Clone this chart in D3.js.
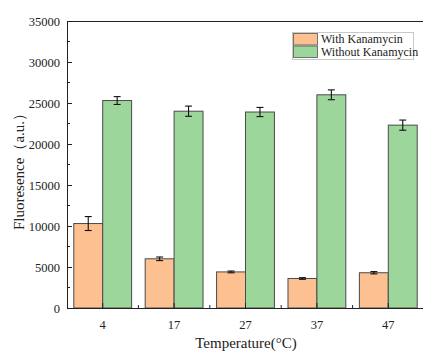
<!DOCTYPE html>
<html><head><meta charset="utf-8">
<script src="https://cdn.jsdelivr.net/npm/d3@7"></script>
<style>body{margin:0;background:#fff}svg{display:block}text{font-family:"Liberation Serif","Times New Roman",serif;fill:#222}</style>
</head><body>
<svg id="c" width="423" height="354"></svg>
<script>
const categories = ["4", "17", "27", "37", "47"];
const seriesNames = ["With Kanamycin", "Without Kanamycin"];
const withKan = [10300, 6000, 4400, 3600, 4300];
const withKanErr = [850, 220, 110, 100, 140];
const withoutKan = [25300, 24000, 23900, 26000, 22300];
const withoutKanErr = [480, 620, 560, 600, 620];
const yTicks = [0, 5000, 10000, 15000, 20000, 25000, 30000, 35000];
const colors = ["#fdc191", "#9dd69b"];

const svg = d3.select("#c");
const L = 67, R = 424, T = 21, B = 308;
const x = d3.scaleBand().domain(categories).range([L, R]).paddingInner(0.19).paddingOuter(0.095);
const y = d3.scaleLinear().domain([0, 35000]).range([B, T]);
const sub = d3.scaleBand().domain(seriesNames).range([0, x.bandwidth()]);

const series = [
  {name: seriesNames[0], vals: withKan, errs: withKanErr, color: colors[0]},
  {name: seriesNames[1], vals: withoutKan, errs: withoutKanErr, color: colors[1]}
];

// bars
series.forEach(s => {
  const g = svg.append("g");
  g.selectAll("rect").data(categories).join("rect")
    .attr("x", (c) => x(c) + sub(s.name))
    .attr("y", (c, i) => y(s.vals[i]))
    .attr("width", sub.bandwidth())
    .attr("height", (c, i) => B - y(s.vals[i]))
    .attr("fill", s.color).attr("stroke", "#4a4a4a").attr("stroke-width", 1);
  // error bars
  const eg = svg.append("g").attr("stroke", "#111").attr("stroke-width", 1.1);
  categories.forEach((c, i) => {
    const cx = x(c) + sub(s.name) + sub.bandwidth() / 2;
    const y1 = y(s.vals[i] + s.errs[i]), y0 = y(s.vals[i] - s.errs[i]);
    eg.append("line").attr("x1", cx).attr("x2", cx).attr("y1", y1).attr("y2", y0);
    eg.append("line").attr("x1", cx - 3.5).attr("x2", cx + 3.5).attr("y1", y1).attr("y2", y1);
    eg.append("line").attr("x1", cx - 3.5).attr("x2", cx + 3.5).attr("y1", y0).attr("y2", y0);
  });
});

// y axis (ticks inward)
const yAxis = d3.axisLeft(y).tickValues(yTicks).tickSize(-5).tickPadding(7).tickFormat(d3.format("d"));
const ya = svg.append("g").attr("transform", `translate(${L},0)`).call(yAxis);
ya.select(".domain").attr("stroke", "#222");
ya.selectAll(".tick line").attr("stroke", "#222");
ya.selectAll("text").attr("font-size", "12.5px").attr("font-family", "Liberation Serif").attr("fill", "#222");
// minor y ticks
const minorY = yTicks.slice(0, -1).map(v => v + 2500);
svg.append("g").selectAll("line").data(minorY).join("line")
  .attr("x1", L).attr("x2", L + 3).attr("y1", d => y(d)).attr("y2", d => y(d)).attr("stroke", "#222");

// x axis (ticks inward)
const xAxis = d3.axisBottom(x).tickSize(-5).tickPadding(12);
const xa = svg.append("g").attr("transform", `translate(0,${B})`).call(xAxis);
xa.select(".domain").attr("d", `M${L},0.5H${R}`).attr("stroke", "#222");
xa.selectAll(".tick line").attr("stroke", "#222");
xa.selectAll("text").attr("font-size", "12.5px").attr("font-family", "Liberation Serif").attr("fill", "#222");
// minor x ticks between categories
const minorX = categories.slice(0, -1).map((c, i) => (x(c) + x(categories[i + 1]) + x.bandwidth()) / 2);
svg.append("g").selectAll("line").data(minorX).join("line")
  .attr("x1", d => d).attr("x2", d => d).attr("y1", B).attr("y2", B - 3).attr("stroke", "#222");

// top and right borders
svg.append("line").attr("x1", L).attr("x2", R).attr("y1", T + 0.5).attr("y2", T + 0.5).attr("stroke", "#222");
svg.append("line").attr("x1", R).attr("x2", R).attr("y1", T).attr("y2", B).attr("stroke", "#222");

// axis titles
svg.append("text").attr("transform", `translate(24,168) rotate(-90)`).attr("text-anchor", "middle")
  .attr("font-size", "15px").text("Fluoresence（a.u.）");
svg.append("text").attr("x", 246).attr("y", 348).attr("text-anchor", "middle")
  .attr("font-size", "15px").text("Temperature(°C)");

// legend
const lg = svg.append("g");
lg.append("rect").attr("x", 292.5).attr("y", 32.5).attr("width", 121).attr("height", 27)
  .attr("fill", "#fff").attr("stroke", "#c8c8c8");
series.forEach((s, i) => {
  lg.append("rect").attr("x", 293.5).attr("y", 33.5 + i * 12.5).attr("width", 24).attr("height", 11.5)
    .attr("fill", s.color).attr("stroke", "#555").attr("stroke-width", 0.8);
  lg.append("text").attr("x", 321).attr("y", 43 + i * 12.5).attr("font-size", "12px").text(s.name);
});
</script>
</body></html>
